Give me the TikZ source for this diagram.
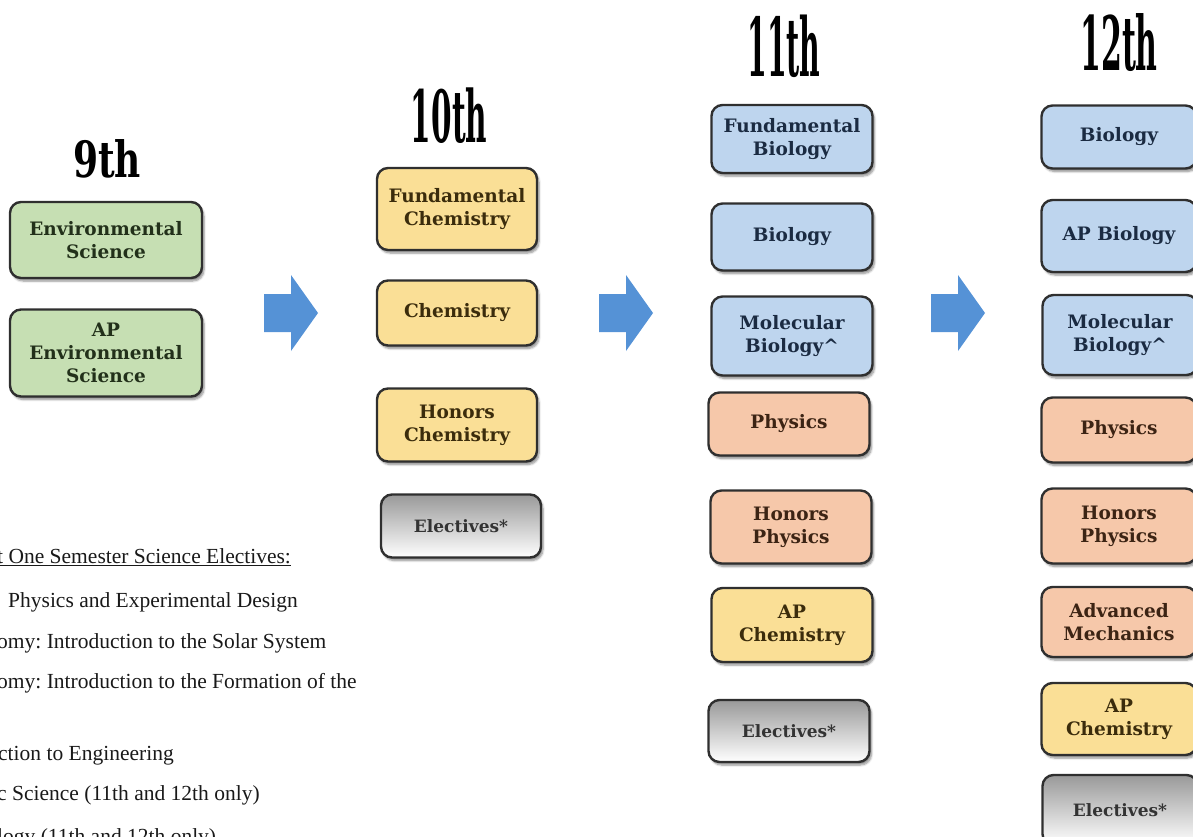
\documentclass[tikz,border=0pt]{standalone}
\usepackage{fontspec}
\usepackage{graphicx}
\setmainfont{DejaVu Serif}
\newfontfamily\listfont{Liberation Serif}
\usetikzlibrary{shadows.blur}
\frenchspacing
\definecolor{boxedge}{HTML}{2F2F2F}
\definecolor{envfill}{HTML}{C6DFB3}
\definecolor{envtext}{HTML}{22301A}
\definecolor{chemfill}{HTML}{FADF96}
\definecolor{chemtext}{HTML}{3B2C0C}
\definecolor{biofill}{HTML}{BED5EE}
\definecolor{biotext}{HTML}{1B2B42}
\definecolor{physfill}{HTML}{F6C8AA}
\definecolor{phystext}{HTML}{3C2414}
\definecolor{arrowblue}{HTML}{5592D6}
\tikzset{
  course/.style={draw=boxedge, line width=2.4pt, rounded corners=11pt, align=center,
    inner sep=2pt, font=\fontsize{18.5}{23}\selectfont\bfseries,
    blur shadow={shadow xshift=2pt, shadow yshift=-3pt, shadow blur steps=6, shadow opacity=45}},
  env/.style={course, fill=envfill, text=envtext, minimum width=192pt},
  chem/.style={course, fill=chemfill, text=chemtext},
  bio/.style={course, fill=biofill, text=biotext},
  phys/.style={course, fill=physfill, text=phystext},
  elect/.style={course, top color=black!40, bottom color=white, text=black!80,
    font=\fontsize{17}{21}\selectfont\bfseries},
  col10/.style={minimum width=160pt},
  col11/.style={minimum width=161pt},
  col12/.style={minimum width=155pt},
  grade/.style={inner sep=0pt, text=black},
  listline/.style={anchor=base west, inner sep=0pt, text=black!90,
    font=\listfont\fontsize{21.5}{26}\selectfont},
  blockarrow/.style={fill=arrowblue}
}
\begin{document}
\begin{tikzpicture}[x=1pt, y=-1pt]
  \useasboundingbox (0,0) rectangle (1193,837);

  % grade headings
  \node[grade, font=\fontsize{50}{50}\selectfont\bfseries] (g9) at (107,159) {\scalebox{0.72}[1]{9th}};
  \node[grade, font=\fontsize{72}{72}\selectfont\bfseries] (g10) at (449,116) {\scalebox{0.41}[1]{10th}};
  \node[grade, font=\fontsize{81}{81}\selectfont\bfseries] (g11) at (784,46) {\scalebox{0.35}[1]{11th}};
  \node[grade, font=\fontsize{75}{75}\selectfont\bfseries] (g12) at (1119,43) {\scalebox{0.4}[1]{12th}};

  % 9th
  \node[env, minimum height=76pt] (envsci) at (106,240) {Environmental\\Science};
  \node[env, minimum height=87pt] (apenv) at (106,353) {AP\\Environmental\\Science};

  % 10th
  \node[chem, col10, minimum height=82pt] (fchem) at (457,209) {Fundamental\\Chemistry};
  \node[chem, col10, minimum height=65pt] (chem) at (457,313) {Chemistry};
  \node[chem, col10, minimum height=73pt] (hchem) at (457,425) {Honors\\Chemistry};
  \node[elect, col10, minimum height=63pt] (elec10) at (461,526) {Electives*};

  % 11th
  \node[bio, col11, minimum height=68pt] (fbio) at (792,139) {Fundamental\\Biology};
  \node[bio, col11, minimum height=67pt] (bio11) at (792,237) {Biology};
  \node[bio, col11, minimum height=79pt] (molbio11) at (792,336) {Molecular\\Biology\textasciicircum};
  \node[phys, col11, minimum height=63pt] (phys11) at (789,424) {Physics};
  \node[phys, col11, minimum height=73pt] (hphys11) at (791,527) {Honors\\Physics};
  \node[chem, col11, minimum height=74pt] (apchem11) at (792,625) {AP\\Chemistry};
  \node[elect, col11, minimum height=62pt] (elec11) at (789,731) {Electives*};

  % 12th
  \node[bio, col12, minimum height=63pt] (bio12) at (1119,137) {Biology};
  \node[bio, col12, minimum height=72pt] (apbio) at (1119,236) {AP Biology};
  \node[bio, col12, minimum height=80pt] (molbio12) at (1120,335) {Molecular\\Biology\textasciicircum};
  \node[phys, col12, minimum height=65pt] (phys12) at (1119,430) {Physics};
  \node[phys, col12, minimum height=75pt] (hphys12) at (1119,526) {Honors\\Physics};
  \node[phys, col12, minimum height=70pt] (advmech) at (1119,622) {Advanced\\Mechanics};
  \node[chem, col12, minimum height=72pt] (apchem12) at (1119,719) {AP\\Chemistry};
  \node[elect, col12, minimum height=70pt] (elec12) at (1120,810) {Electives*};

  % block arrows between grades
  \foreach \ax in {264,599,931}
    \fill[blockarrow] (\ax,294) -- ++(27,0) -- ++(0,-19) -- ++(27,38) -- ++(-27,38) -- ++(0,-19) -- ++(-27,0) -- cycle;

  % electives list (cut at the left edge)
  \node[listline] (ehead) at (-3,563) {\underline{t One Semester Science Electives:}};
  \node[listline] (e1) at (8,607) {Physics and Experimental Design};
  \node[listline] (e2) at (-3,648) {omy: Introduction to the Solar System};
  \node[listline] (e3) at (-3,688) {omy: Introduction to the Formation of the};
  \node[listline] (e4) at (-2,760) {ction to Engineering};
  \node[listline] (e5) at (-3,800) {c Science (11th and 12th only)};
  \node[listline] (e6) at (-3,843) {logy (11th and 12th only)};
\end{tikzpicture}
\end{document}
